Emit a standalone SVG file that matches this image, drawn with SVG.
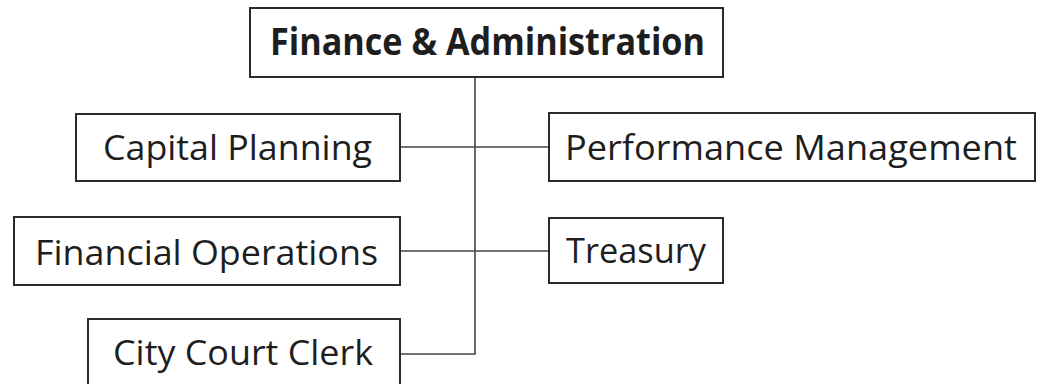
<svg xmlns="http://www.w3.org/2000/svg" width="1041" height="384" viewBox="0 0 1041 384">
<style>
.box{fill:#fff;stroke:#2b2b2b;stroke-width:2}
.lbl{font-family:"Open Sans","Noto Sans",sans-serif;font-size:35px;fill:#1e1e1e;text-anchor:middle}
.bold{font-weight:bold;font-size:37px}
.conn{fill:none;stroke:#444;stroke-width:1.6}
</style>
<rect width="1041" height="384" fill="#fff"/>
<g id="connectors">
<path class="conn" d="M475 77 V354 H400"/>
<path class="conn" d="M400 147 H549"/>
<path class="conn" d="M400 251 H549"/>
</g>
<g id="finance-admin">
<rect class="box" x="250" y="8" width="473" height="69"/>
<text class="lbl bold" x="487.5" y="55" textLength="435" lengthAdjust="spacingAndGlyphs">Finance &amp; Administration</text>
</g>
<g id="capital-planning">
<rect class="box" x="76" y="114" width="324" height="67"/>
<text class="lbl" x="237.5" y="160" textLength="269" lengthAdjust="spacingAndGlyphs">Capital Planning</text>
</g>
<g id="performance-management">
<rect class="box" x="549" y="113" width="486" height="68"/>
<text class="lbl" x="791" y="160" textLength="452" lengthAdjust="spacingAndGlyphs">Performance Management</text>
</g>
<g id="financial-operations">
<rect class="box" x="14" y="217" width="386" height="68"/>
<text class="lbl" x="206.5" y="265" textLength="343" lengthAdjust="spacingAndGlyphs">Financial Operations</text>
</g>
<g id="treasury">
<rect class="box" x="549" y="218" width="174" height="65"/>
<text class="lbl" x="636" y="263" textLength="140" lengthAdjust="spacingAndGlyphs">Treasury</text>
</g>
<g id="city-court-clerk">
<rect class="box" x="88" y="319" width="312" height="70"/>
<text class="lbl" x="243" y="365" textLength="260" lengthAdjust="spacingAndGlyphs">City Court Clerk</text>
</g>
</svg>
